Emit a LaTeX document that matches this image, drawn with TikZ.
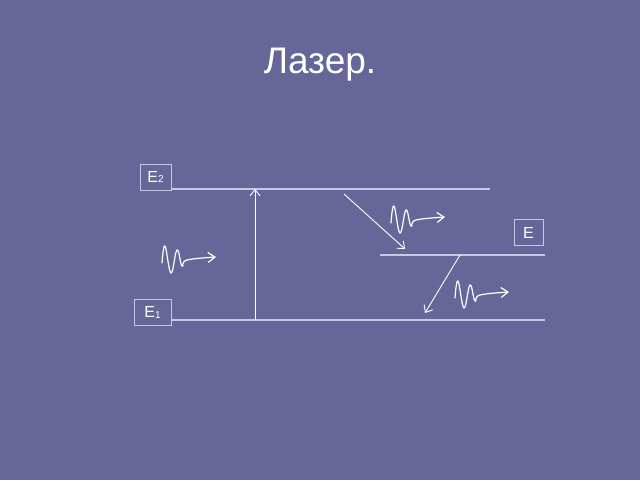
\documentclass[tikz,border=0pt]{standalone}
\usepackage{fontspec}
\setmainfont{Liberation Sans}
\usetikzlibrary{arrows.meta}
\definecolor{slide}{RGB}{102,102,153}
\definecolor{level}{RGB}{200,200,230}
\newcommand{\lowidx}[1]{\raisebox{-0.1ex}{\fontsize{10}{10}\selectfont #1}}
\tikzset{
	levelline/.style={draw=level, line width=1.3pt},
	lblbox/.style={draw=level, line width=0.8pt, text=white, font=\fontsize{16}{16}\selectfont,
		minimum width=31pt, minimum height=26pt, inner sep=0pt},
	jump/.style={draw=white, line width=0.9pt, -{Straight Barb[length=6pt,width=10pt]}},
	photon/.pic={
		\draw[white, line width=1.2pt, line cap=round, -{Straight Barb[length=7pt,width=10pt]}]
			plot[smooth, tension=0.7] coordinates {(0,0) (3,-17) (9,10) (15,-13) (20,3) (25,-3) (54,-6)};
	}
}
\begin{document}
\begin{tikzpicture}[x=1pt, y=-1pt, every node/.style={white}]
	\fill[slide] (0,0) rectangle (640,480);
	\useasboundingbox (0,0) rectangle (640,480);

	\node[font=\fontsize{37}{37}\selectfont] (title) at (320,65) {Лазер.};

%	levels: box on the left end, line to the right
	\node[lblbox] (lblEtwo) at (155.5,177) {E\lowidx{2}};
	\node[lblbox, minimum width=37pt] (lblEone) at (152.5,312.5) {E\lowidx{1}};
	\node[lblbox, minimum width=29pt] (lblE) at (528.5,232.5) {E};

	\coordinate (e2a) at (171,189);
	\coordinate (e2b) at (490,189);
	\coordinate (e1a) at (171,320);
	\coordinate (e1b) at (545,320);
	\coordinate (ea)  at (380,255);
	\coordinate (eb)  at (545,255);

	\draw[levelline] (e2a) -- (e2b);
	\draw[levelline] (e1a) -- (e1b);
	\draw[levelline] (ea) -- (eb);

%	transitions
	\coordinate (up0) at (255,320);
	\coordinate (up1) at (255,189);
	\coordinate (dn0) at (344,194);
	\coordinate (dn1) at (405,249);
	\coordinate (dn2) at (460,255);
	\coordinate (dn3) at (425,313);

	\draw[jump] (up0) -- (up1);
	\draw[jump] (dn0) -- (dn1);
	\draw[jump] (dn2) -- (dn3);

%	photons
	\pic at (162,263) {photon};
	\pic at (391,223) {photon};
	\pic at (455,298) {photon};
\end{tikzpicture}
\end{document}
